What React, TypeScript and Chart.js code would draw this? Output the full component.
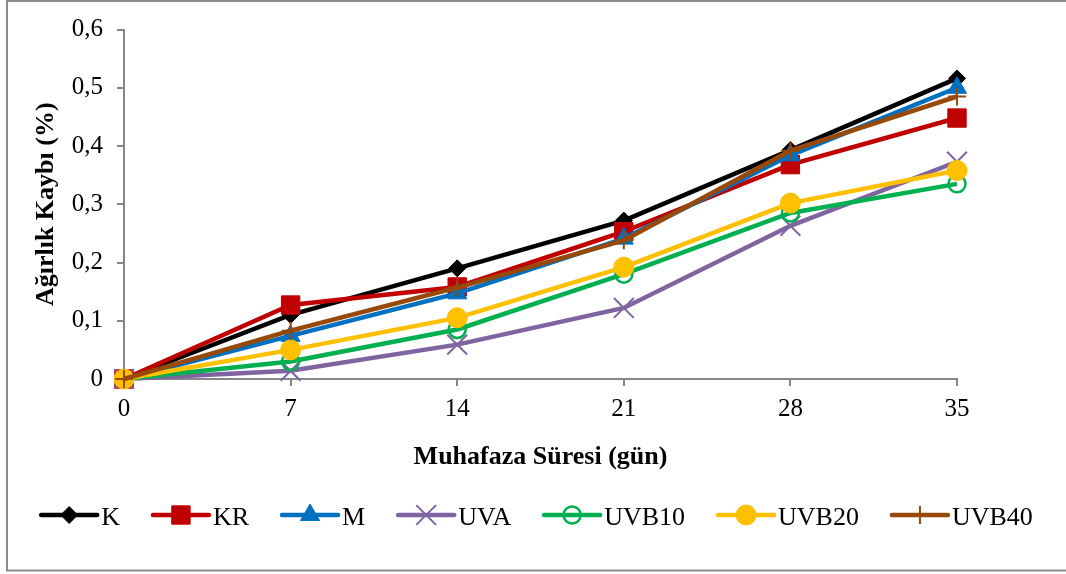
import React, { useEffect, useRef } from 'react';
import { Chart, registerables } from 'chart.js';
import { drawPoint } from 'chart.js/helpers';

Chart.register(...registerables);

const days = [0, 7, 14, 21, 28, 35];
const seriesNames = ['K', 'KR', 'M', 'UVA', 'UVB10', 'UVB20', 'UVB40'];
const K = [0, 0.11, 0.19, 0.272, 0.393, 0.516];
const KR = [0, 0.127, 0.158, 0.253, 0.368, 0.448];
const M = [0, 0.074, 0.147, 0.241, 0.384, 0.5];
const UVA = [0, 0.014, 0.059, 0.122, 0.263, 0.373];
const UVB10 = [0, 0.03, 0.085, 0.18, 0.285, 0.335];
const UVB20 = [0, 0.05, 0.105, 0.192, 0.302, 0.358];
const UVB40 = [0, 0.083, 0.157, 0.238, 0.392, 0.485];
const seriesValues = [K, KR, M, UVA, UVB10, UVB20, UVB40];
const yTickLabels = ['0', '0,1', '0,2', '0,3', '0,4', '0,5', '0,6'];
const xTitle = 'Muhafaza Süresi (gün)';
const yTitle = 'Ağırlık Kaybı (%)';

const FONT = "'Times New Roman', 'Liberation Serif', serif";
const AXIS = '#868686';

type Sty = { color: string; pointStyle: string; radius: number; fill: string; bw: number };
const styles: Sty[] = [
  { color: '#000000', pointStyle: 'rectRot', radius: 8.5, fill: '#000000', bw: 1 },
  { color: '#C00000', pointStyle: 'rect', radius: 13, fill: '#C00000', bw: 1 },
  { color: '#0070C0', pointStyle: 'triangle', radius: 11, fill: '#0070C0', bw: 1 },
  { color: '#8064A2', pointStyle: 'crossRot', radius: 14, fill: 'rgba(0,0,0,0)', bw: 2 },
  { color: '#00B050', pointStyle: 'circle', radius: 8.5, fill: 'rgba(0,0,0,0)', bw: 2.5 },
  { color: '#FFC000', pointStyle: 'circle', radius: 10, fill: '#FFC000', bw: 1 },
  { color: '#984807', pointStyle: 'cross', radius: 9, fill: 'rgba(0,0,0,0)', bw: 2 },
];

const framePlugin = {
  id: 'frameLegend',
  afterDraw(chart: any) {
    const ctx = chart.ctx as CanvasRenderingContext2D;
    ctx.save();
    // frame
    ctx.strokeStyle = '#8c8c8c';
    ctx.lineWidth = 2;
    ctx.strokeRect(7, 1, 1070, 569.5);
    // legend
    ctx.font = `26px ${FONT}`;
    ctx.textBaseline = 'alphabetic';
    ctx.textAlign = 'left';
    const lineLen = 56;
    const gapText = 4;
    const gap = 33;
    const widths = seriesNames.map((n) => ctx.measureText(n).width);
    const total =
      widths.reduce((a, w) => a + lineLen + gapText + w, 0) + gap * (seriesNames.length - 1);
    let x = 537 - total / 2;
    const ly = 515;
    seriesNames.forEach((name, i) => {
      const s = styles[i];
      ctx.strokeStyle = s.color;
      ctx.lineWidth = 4.5;
      ctx.lineCap = 'round';
      ctx.beginPath();
      ctx.moveTo(x, ly);
      ctx.lineTo(x + lineLen, ly);
      ctx.stroke();
      ctx.lineCap = 'butt';
      ctx.fillStyle = s.fill;
      ctx.strokeStyle = s.color;
      ctx.lineWidth = s.bw;
      drawPoint(ctx, { pointStyle: s.pointStyle as any, radius: s.radius, rotation: 0, borderWidth: s.bw }, x + lineLen / 2, ly);
      ctx.fillStyle = '#000';
      ctx.fillText(name, x + lineLen + gapText, 525);
      x += lineLen + gapText + widths[i] + gap;
    });
    ctx.restore();
  },
};

export default function App() {
  const ref = useRef<HTMLCanvasElement>(null);
  useEffect(() => {
    if (!ref.current) return;
    const datasets = seriesNames.map((name, i) => ({
      label: name,
      data: days.map((d, j) => ({ x: d, y: seriesValues[i][j] })),
      borderColor: styles[i].color,
      backgroundColor: styles[i].fill,
      borderWidth: 4.5,
      pointStyle: styles[i].pointStyle,
      pointRadius: styles[i].radius,
      pointBorderWidth: styles[i].bw,
      pointBorderColor: styles[i].color,
      pointBackgroundColor: styles[i].fill,
      tension: 0,
      clip: false as any,
      order: seriesNames.length - 1 - i,
    }));
    const chart = new Chart(ref.current, {
      type: 'line',
      data: { datasets },
      plugins: [framePlugin],
      options: {
        animation: false,
        responsive: false,
        devicePixelRatio: 1,
        layout: { padding: { left: 0, right: 109, top: 29.5, bottom: 0 } },
        plugins: { legend: { display: false }, tooltip: { enabled: false } },
        scales: {
          x: {
            type: 'linear',
            min: 0,
            max: 35,
            ticks: { stepSize: 7, color: '#000', font: { family: FONT, size: 25 }, padding: 8 },
            grid: { drawOnChartArea: false, tickLength: 7, color: AXIS, lineWidth: 2 },
            border: { color: AXIS, width: 2 },
            title: {
              display: true,
              text: xTitle,
              color: '#000',
              font: { family: FONT, size: 26, weight: 'bold' },
              padding: { top: 0, bottom: 101 },
            },
            afterFit: (s: any) => {
              s.height = 195;
            },
          },
          y: {
            min: 0,
            max: 0.6,
            ticks: {
              stepSize: 0.1,
              color: '#000',
              font: { family: FONT, size: 25 },
              padding: 14,
              callback: (v: any) => yTickLabels[Math.round(Number(v) * 10)] ?? '',
            },
            grid: { drawOnChartArea: false, tickLength: 7, color: AXIS, lineWidth: 2 },
            border: { color: AXIS, width: 2 },
            title: {
              display: true,
              text: yTitle,
              color: '#000',
              font: { family: FONT, size: 26, weight: 'bold' },
              padding: { top: 31, bottom: 0 },
            },
            afterFit: (s: any) => {
              s.width = 124;
            },
          },
        },
      } as any,
    });
    return () => chart.destroy();
  }, []);
  return (
    <div style={{ position: 'absolute', left: 0, top: 0, width: 1066, height: 574, background: '#fff' }}>
      <canvas ref={ref} width={1066} height={574} style={{ display: 'block' }} />
    </div>
  );
}
